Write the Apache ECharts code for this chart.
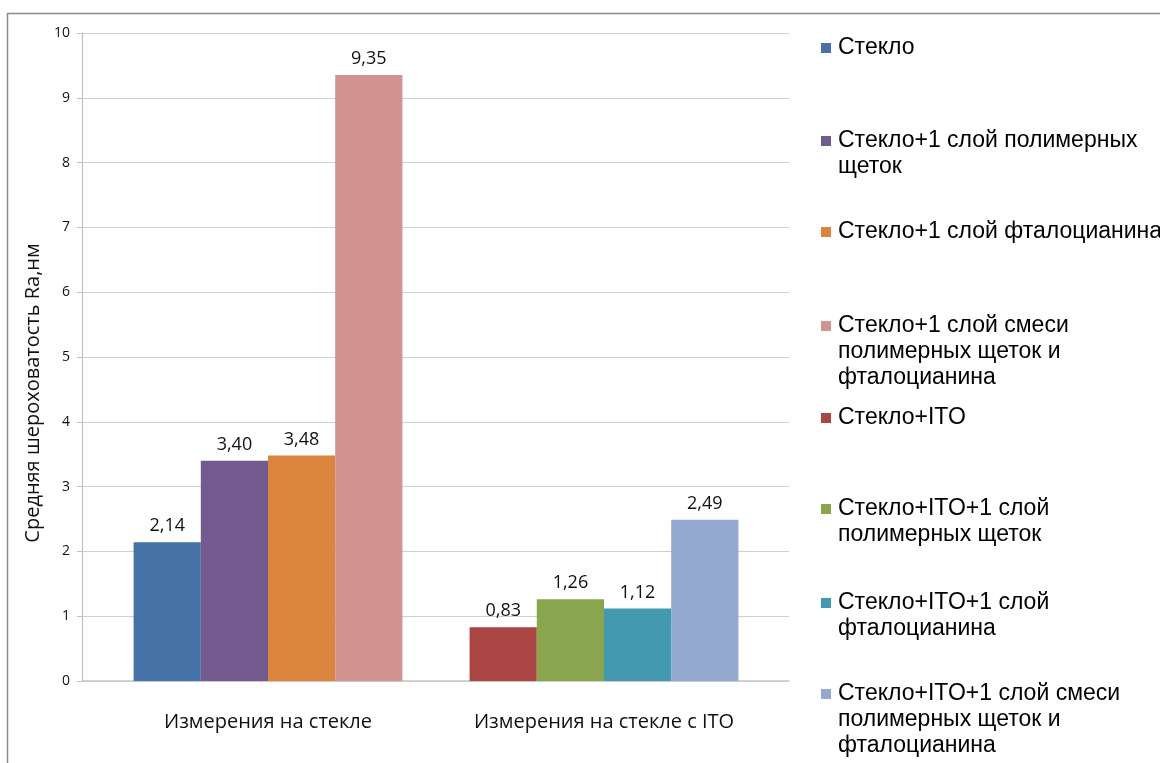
<!DOCTYPE html>
<html>
<head>
<meta charset="utf-8">
<script src="https://cdn.jsdelivr.net/npm/echarts@6/dist/echarts.min.js"></script>
<style>
    html, body { margin: 0; padding: 0; background: #fff; }
    #chart { width: 1160px; height: 763px; }
</style>
</head>
<body>
<div id="chart"></div>
<script>
    // categories and values
    var categories = ['Измерения на стекле', 'Измерения на стекле с ITO'];
    var seriesNames = [
        'Стекло',
        'Стекло+1 слой полимерных\nщеток',
        'Стекло+1 слой фталоцианина',
        'Стекло+1 слой смеси\nполимерных щеток и\nфталоцианина',
        'Стекло+ITO',
        'Стекло+ITO+1 слой\nполимерных щеток',
        'Стекло+ITO+1 слой\nфталоцианина',
        'Стекло+ITO+1 слой смеси\nполимерных щеток и\nфталоцианина'
    ];
    var glassValues = [2.14, 3.40, 3.48, 9.35];
    var itoValues = [0.83, 1.26, 1.12, 2.49];
    var colors = ['#4572A7', '#735A8F', '#DB843D', '#D29290', '#AA4643', '#89A54E', '#4399AF', '#93A9CF'];
    var yTicks = [0, 1, 2, 3, 4, 5, 6, 7, 8, 9, 10];

    var chart = echarts.init(document.getElementById('chart'));

    function fmt(v) {
        return v.toFixed(2).replace('.', ',');
    }

    var series = [];
    for (var i = 0; i < 8; i++) {
        var val = i < 4 ? [glassValues[i], '-'] : ['-', itoValues[i - 4]];
        series.push({
            name: seriesNames[i],
            type: 'bar',
            xAxisIndex: 1,
            yAxisIndex: 1,
            stack: 's' + (i % 4),
            data: val,
            barGap: '0%',
            barCategoryGap: '20%',
            itemStyle: {color: colors[i]},
            label: {
                show: true,
                position: 'top',
                distance: 7,
                fontFamily: 'Open Sans',
                fontSize: 18,
                color: '#111',
                formatter: function (p) { return fmt(p.value); }
            }
        });
    }

    // one legend per entry so the rows keep the even spacing of the original
    var legendCenters = [48, 141, 232, 326, 418, 509, 603, 694];
    var lineH = 26;
    var legends = [];
    for (var k = 0; k < 8; k++) {
        var n = seriesNames[k].split('\n').length;
        legends.push({
            data: [seriesNames[k]],
            orient: 'vertical',
            left: 821,
            top: legendCenters[k] - lineH / 2 - (n - 1) * lineH,
            padding: 0,
            icon: 'rect',
            itemWidth: 10,
            itemHeight: 10,
            itemGap: 0,
            selectedMode: false,
            textStyle: {
                fontFamily: 'Liberation Sans',
                fontSize: 23,
                color: '#000',
                lineHeight: lineH,
                padding: [0, 0, 0, 2]
            },
            formatter: (function (cnt) {
                return function (name) {
                    var pre = '';
                    for (var j = 1; j < cnt; j++) pre += '\n';
                    return pre + name;
                };
            })(n)
        });
    }

    var option = {
        animation: false,
        backgroundColor: '#fff',
        graphic: [{
            type: 'rect',
            shape: {x: 7.5, y: 13.5, width: 1200, height: 800},
            style: {fill: null, stroke: '#8a8a8a', lineWidth: 1.5},
            silent: true
        }],
        legend: legends,
        grid: [
            {left: 82, right: 371, top: 33, bottom: 82},
            {left: 100, right: 388, top: 33, bottom: 82}
        ],
        xAxis: [
            {
                type: 'category',
                gridIndex: 0,
                data: categories,
                axisLine: {lineStyle: {color: '#c8c8c8', width: 1.5}},
                axisTick: {show: false},
                axisLabel: {show: false}
            },
            {
                type: 'category',
                gridIndex: 1,
                data: categories,
                axisLine: {show: false},
                axisTick: {show: false},
                axisLabel: {
                    interval: 0,
                    margin: 31,
                    fontFamily: 'Open Sans',
                    fontSize: 20,
                    color: '#111'
                }
            }
        ],
        yAxis: [
            {
                type: 'value',
                gridIndex: 0,
                min: yTicks[0],
                max: yTicks[yTicks.length - 1],
                interval: 1,
                name: 'Средняя шероховатость Ra,нм',
                nameLocation: 'middle',
                nameGap: 38,
                nameTextStyle: {
                    fontFamily: 'Open Sans',
                    fontSize: 20,
                    color: '#111',
                    padding: [0, 72, 0, 0]
                },
                axisLine: {show: true, lineStyle: {color: '#c0c0c0', width: 1.2}},
                axisTick: {show: true, length: 5, lineStyle: {color: '#c0c0c0'}},
                axisLabel: {
                    margin: 12,
                    fontFamily: 'Open Sans',
                    fontSize: 14,
                    color: '#111'
                },
                splitLine: {lineStyle: {color: '#d0d0d0', width: 1.2}}
            },
            {
                type: 'value',
                gridIndex: 1,
                min: yTicks[0],
                max: yTicks[yTicks.length - 1],
                interval: 1,
                show: false
            }
        ],
        series: series
    };

    chart.setOption(option);
</script>
</body>
</html>
